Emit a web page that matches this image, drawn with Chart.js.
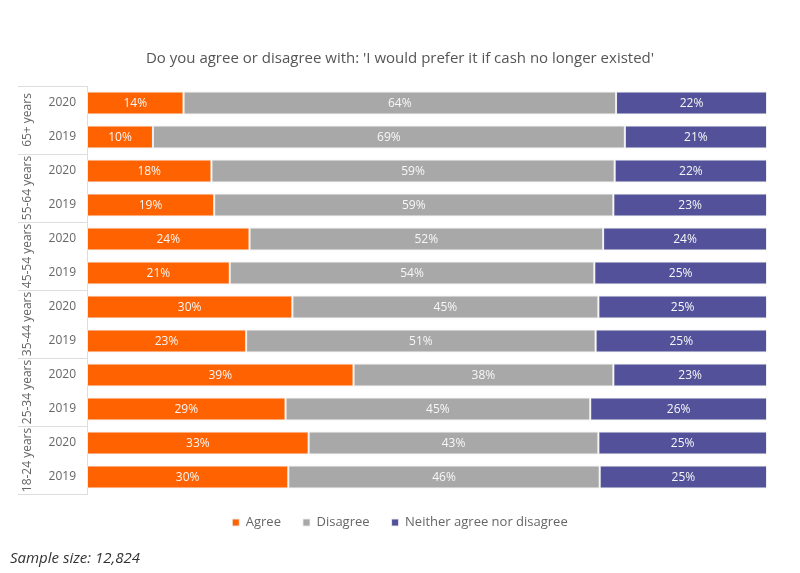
<!DOCTYPE html>
<html>
<head>
<meta charset="utf-8">
<script src="https://cdn.jsdelivr.net/npm/chart.js@4"></script>
<style>
  html, body { margin: 0; padding: 0; background: #fff; }
  #wrap { position: relative; width: 800px; height: 573px; }
  #note {
    position: absolute; left: 10px; top: 547px;
    font: italic 15px "Open Sans", sans-serif; color: #333;
  }
</style>
</head>
<body>
<div id="wrap">
  <canvas id="chart" width="800" height="573"></canvas>
  <div id="note">Sample size: 12,824</div>
</div>
<script>
(function () {
  'use strict';

  // rows run top to bottom, two survey years per age group
  var years = ['2020', '2019', '2020', '2019', '2020', '2019',
               '2020', '2019', '2020', '2019', '2020', '2019'];
  var groups = ['65+ years', '55-64 years', '45-54 years',
                '35-44 years', '25-34 years', '18-24 years'];

  var agree    = [14.2, 9.7, 18.3, 18.7, 23.9, 21.0, 30.2, 23.4, 39.2, 29.2, 32.6, 29.6];
  var disagree = [63.6, 69.4, 59.3, 58.7, 52.0, 53.6, 45.0, 51.4, 38.2, 44.8, 42.6, 45.8];
  var neither  = [22.2, 20.9, 22.4, 22.6, 24.1, 25.4, 24.8, 25.2, 22.6, 26.0, 24.8, 24.6];

  var seriesNames = ['Agree', 'Disagree', 'Neither agree nor disagree'];
  var colors = ['#ff6200', '#a8a8a8', '#525199'];

  var font = '"Open Sans", sans-serif';

  // percentage labels in the middle of each segment
  var segmentLabels = {
    id: 'segmentLabels',
    afterDatasetsDraw: function (chart) {
      var ctx = chart.ctx;
      ctx.save();
      ctx.font = '12px ' + font;
      ctx.fillStyle = '#f7f7f7';
      ctx.textAlign = 'center';
      ctx.textBaseline = 'middle';
      chart.data.datasets.forEach(function (ds, i) {
        var meta = chart.getDatasetMeta(i);
        meta.data.forEach(function (bar, j) {
          var mid = (bar.x + bar.base) / 2;
          ctx.fillText(Math.round(ds.data[j]) + '%', mid, bar.y + 1);
        });
      });
      ctx.restore();
    }
  };

  // age group labels and separator lines left of the year ticks
  var groupAxis = {
    id: 'groupAxis',
    afterDraw: function (chart) {
      var ctx = chart.ctx;
      var y = chart.scales.y;
      var half = (y.getPixelForValue(1) - y.getPixelForValue(0)) / 2;
      var left = 18;
      var right = chart.chartArea.left;
      ctx.save();
      ctx.strokeStyle = '#dddddd';
      ctx.lineWidth = 1;
      for (var k = 0; k <= groups.length; k++) {
        var py = Math.round(y.getPixelForValue(k * 2) - half) + 0.5;
        ctx.beginPath();
        ctx.moveTo(left, py);
        ctx.lineTo(right, py);
        ctx.stroke();
      }
      ctx.font = '12px ' + font;
      ctx.fillStyle = '#666666';
      ctx.textAlign = 'center';
      ctx.textBaseline = 'middle';
      groups.forEach(function (g, k) {
        var cy = (y.getPixelForValue(k * 2) + y.getPixelForValue(k * 2 + 1)) / 2;
        ctx.save();
        ctx.translate(28, cy);
        ctx.rotate(-Math.PI / 2);
        ctx.fillText(g, 0, 0);
        ctx.restore();
      });
      ctx.restore();
    }
  };

  var datasets = [agree, disagree, neither].map(function (values, idx) {
    return {
      label: seriesNames[idx],
      data: values,
      backgroundColor: colors[idx],
      borderColor: 'rgba(235,235,235,0.9)',
      borderWidth: 1,
      borderSkipped: false,
      barPercentage: 0.67,
      categoryPercentage: 1
    };
  });

  new Chart(document.getElementById('chart'), {
    type: 'bar',
    data: { labels: years, datasets: datasets },
    plugins: [segmentLabels, groupAxis],
    options: {
      indexAxis: 'y',
      responsive: false,
      animation: false,
      layout: { padding: { left: 0, right: 0, bottom: 34 } },
      scales: {
        x: {
          stacked: true,
          display: false,
          min: 0,
          max: 100
        },
        y: {
          stacked: true,
          afterFit: function (scale) {
            scale.width = 87;
          },
          grid: { display: false, drawTicks: false },
          border: { display: true, color: '#dddddd' },
          ticks: {
            padding: 11,
            color: '#666666',
            font: { family: font, size: 12 }
          }
        },
        // empty right margin so title and legend stay centred on the page
        yRight: {
          position: 'right',
          afterFit: function (scale) {
            scale.width = 33;
          },
          grid: { display: false, drawTicks: false },
          border: { display: false },
          ticks: { display: false }
        }
      },
      plugins: {
        title: {
          display: true,
          text: "Do you agree or disagree with: 'I would prefer it if cash no longer existed'",
          color: '#555555',
          font: { family: font, size: 15, weight: 'normal' },
          padding: { top: 50, bottom: 18 }
        },
        legend: {
          position: 'bottom',
          labels: {
            boxWidth: 7,
            boxHeight: 7,
            padding: 22,
            color: '#666666',
            font: { family: font, size: 13 }
          }
        },
        tooltip: { enabled: false }
      }
    }
  });
})();
</script>
</body>
</html>
